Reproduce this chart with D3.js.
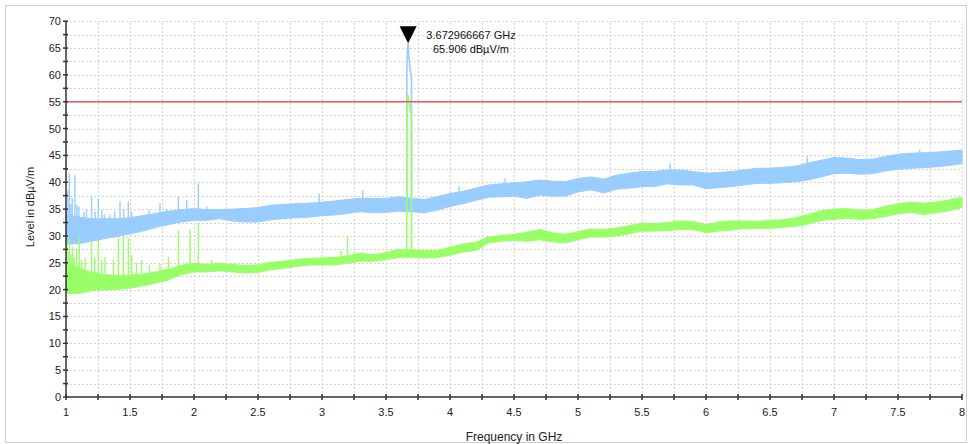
<!DOCTYPE html>
<html><head><meta charset="utf-8">
<script src="https://cdn.jsdelivr.net/npm/d3@7"></script>
<style>
html,body{margin:0;padding:0;background:#fff;}
svg{display:block;font-family:"Liberation Sans",Arial,sans-serif;}
</style></head>
<body><svg id="c" width="968" height="444"></svg>
<script>
// ---- data ----
const freqs = [1.0,1.1,1.2,1.3,1.4,1.5,1.6,1.7,1.8,1.9,2.0,2.1,2.2,2.3,2.4,2.5,2.6,2.7,2.8,2.9,3.0,3.1,3.2,3.3,3.4,3.5,3.6,3.7,3.8,3.9,4.0,4.1,4.2,4.3,4.4,4.5,4.6,4.7,4.8,4.9,5.0,5.1,5.2,5.3,5.4,5.5,5.6,5.7,5.8,5.9,6.0,6.1,6.2,6.3,6.4,6.5,6.6,6.7,6.8,6.9,7.0,7.1,7.2,7.3,7.4,7.5,7.6,7.7,7.8,7.9,8.0];
const blueLow = [28.4,28.6,29.0,29.5,29.9,30.4,30.9,31.6,32.1,32.6,32.9,32.9,33.2,32.8,32.6,32.6,33.0,33.2,33.4,33.5,33.8,33.9,34.2,34.5,34.3,34.4,34.6,34.5,34.3,34.8,35.5,36.0,36.6,37.2,37.3,37.4,37.0,37.6,37.4,37.4,38.2,38.6,38.0,38.7,38.9,39.2,39.2,39.7,39.5,39.5,38.8,39.0,39.2,39.5,39.8,39.8,39.9,40.1,40.4,41.0,41.6,41.7,41.5,41.6,42.1,42.4,42.6,42.7,42.9,43.1,43.5];
const blueHigh = [34.0,33.5,33.2,33.2,33.2,33.4,33.8,34.2,34.6,34.9,35.1,34.9,34.9,35.0,35.1,35.3,35.7,35.9,36.0,36.1,36.3,36.5,36.8,37.0,37.0,37.0,37.3,37.0,36.8,37.3,37.9,38.3,38.9,39.5,39.7,39.9,40.1,40.4,40.2,40.1,40.7,41.0,40.6,41.3,41.7,42.0,42.0,42.3,42.3,42.0,41.7,41.8,42.0,42.3,42.6,42.6,42.8,43.0,43.6,44.1,44.6,44.5,44.2,44.3,44.8,45.2,45.4,45.5,45.6,45.8,46.0];
const greenLow = [19.3,19.3,19.8,20.0,20.0,20.3,20.7,21.2,21.8,22.8,23.3,23.3,23.5,23.3,23.1,23.2,23.7,24.0,24.3,24.6,24.6,24.6,24.9,25.3,25.3,25.6,26.0,26.0,25.9,26.0,26.4,27.0,27.3,28.7,29.0,29.2,29.0,29.3,28.9,28.7,29.3,29.8,29.8,30.0,30.4,30.9,30.9,31.0,31.2,31.2,30.6,30.9,31.1,31.4,31.4,31.4,31.6,31.8,32.2,32.9,33.1,33.3,33.1,33.2,33.6,34.1,34.4,34.0,34.3,34.7,35.3];
const greenHigh = [25.0,24.0,23.2,22.8,22.6,22.7,22.9,23.3,23.8,24.5,24.9,24.7,24.9,24.7,24.5,24.6,25.1,25.3,25.6,25.8,25.9,26.0,26.3,26.8,26.5,26.9,27.5,27.4,27.3,27.3,27.9,28.5,28.8,29.8,30.1,30.3,30.7,31.2,30.6,30.3,30.8,31.3,31.2,31.5,31.9,32.4,32.3,32.5,32.8,32.7,32.1,32.6,32.8,32.8,32.7,32.9,33.0,33.4,34.0,34.7,35.0,35.1,34.8,34.9,35.5,36.0,36.3,36.1,36.3,36.7,37.2];

const blueSpikeF = [1.005,1.015,1.026,1.037,1.049,1.07,1.085,1.10,1.141,1.16,1.2,1.227,1.252,1.28,1.30,1.343,1.38,1.422,1.45,1.487,1.513,1.59,1.65,1.734,1.786,1.878,1.943,2.034,2.10,2.977,3.318,4.07,4.43,5.72,6.79,7.67];
const blueSpikeV = [35.0,38.5,41.7,36.0,37.0,41.3,35.8,35.5,34.5,35.0,37.3,34.5,37.0,34.8,34.0,34.0,34.6,36.4,35.0,36.4,34.5,33.5,34.8,36.1,35.0,37.3,36.7,39.8,35.5,37.9,38.4,39.2,40.7,43.5,44.8,46.0];
const greenSpikeF = [1.005,1.015,1.026,1.04,1.052,1.065,1.083,1.104,1.122,1.15,1.2,1.225,1.252,1.28,1.305,1.37,1.409,1.448,1.487,1.513,1.55,1.591,1.65,1.734,1.8,1.878,1.969,2.034,2.138,3.15,3.2];
const greenSpikeV = [28.6,27.0,29.5,26.5,27.9,26.0,27.6,29.9,25.5,25.8,29.2,26.0,29.2,25.5,26.1,25.5,29.6,29.9,29.6,26.4,25.0,25.5,24.6,24.8,26.1,31.1,31.1,32.6,25.5,27.2,29.9];

const bluePeakF = [3.662,3.663,3.667,3.672966667,3.678,3.686,3.699,3.700];
const bluePeakV = [36.5,61.0,64.5,65.906,63.5,61.5,59.5,36.5];
const greenPeakF = [3.662,3.663,3.668,3.678,3.690,3.699,3.700];
const greenPeakV = [27.0,55.0,56.3,55.5,53.5,52.5,27.0];

const limitValue = 55;
const markerF = 3.672966667, markerV = 65.906;
const xTicks = [1,1.5,2,2.5,3,3.5,4,4.5,5,5.5,6,6.5,7,7.5,8];
const yTicks = [0,5,10,15,20,25,30,35,40,45,50,55,60,65,70];

// ---- chart ----
const svg = d3.select("#c");
const x = d3.scaleLinear().domain([1,8]).range([66,962]);
const y = d3.scaleLinear().domain([0,70]).range([397,21.2]);

svg.append("rect").attr("x",5.5).attr("y",5.5).attr("width",961).attr("height",437)
  .attr("fill","none").attr("stroke","#d0d0d0").attr("stroke-width",1);

const minorX = d3.range(1,8.001,0.25), minorY = d3.range(0,70.001,2.5);
const grid = svg.append("g").attr("stroke","#d4d4d4").attr("stroke-dasharray","2,2").attr("stroke-width",1);
minorX.filter(v=>v>1).forEach(v=>grid.append("line").attr("x1",Math.round(x(v))+0.5).attr("x2",Math.round(x(v))+0.5).attr("y1",y(0)).attr("y2",y(70)));
minorY.filter(v=>v>0).forEach(v=>grid.append("line").attr("y1",Math.round(y(v))+0.5).attr("y2",Math.round(y(v))+0.5).attr("x1",x(1)).attr("x2",x(8)));

const band = (lo,hi)=>d3.area().x((d,i)=>x(freqs[i])).y0((d,i)=>y(lo[i])).y1((d,i)=>y(hi[i]));

function drawTrace(color, lo, hi, sf, sv, pf, pv){
  const g = svg.append("g");
  g.append("path").datum(freqs).attr("d",band(lo,hi)).attr("fill",color).attr("stroke",color).attr("stroke-width",1);
  sf.forEach((f,i)=>{
    const j = d3.bisectLeft(freqs,f);
    const k = Math.min(j,freqs.length-1);
    g.append("line").attr("x1",x(f)).attr("x2",x(f)).attr("y1",y(lo[k]+0.5)).attr("y2",y(sv[i]))
      .attr("stroke",color).attr("stroke-width",1.4);
  });
  g.append("path").datum(pf.map((f,i)=>[f,pv[i]]))
    .attr("d",d3.line().x(d=>x(d[0])).y(d=>y(d[1])))
    .attr("fill","none").attr("stroke",color).attr("stroke-width",1.6);
}
drawTrace("#99ccff", blueLow, blueHigh, blueSpikeF, blueSpikeV, bluePeakF, bluePeakV);
drawTrace("#99ff66", greenLow, greenHigh, greenSpikeF, greenSpikeV, greenPeakF, greenPeakV);

svg.append("line").attr("x1",x(1)).attr("x2",x(8)).attr("y1",y(limitValue)).attr("y2",y(limitValue))
  .attr("stroke","#f05a5a").attr("stroke-width",1.6);

// axes
const ax = svg.append("g").attr("stroke","#333").attr("stroke-width",1.5);
ax.append("line").attr("x1",x(1)).attr("x2",x(8)).attr("y1",y(0)).attr("y2",y(0));
ax.append("line").attr("x1",x(1)).attr("x2",x(1)).attr("y1",y(0)).attr("y2",y(70));
minorX.forEach(v=>ax.append("line").attr("x1",x(v)).attr("x2",x(v)).attr("y1",y(0)-3).attr("y2",y(0)+3));
minorY.forEach(v=>ax.append("line").attr("y1",y(v)).attr("y2",y(v)).attr("x1",x(1)-3).attr("x2",x(1)+2));

svg.append("g").selectAll("text").data(xTicks).join("text")
  .attr("x",d=>x(d)).attr("y",y(0)+19).attr("text-anchor","middle").attr("font-size",11).attr("fill","#222").text(d=>d);
svg.append("g").selectAll("text").data(yTicks).join("text")
  .attr("x",x(1)-5).attr("y",d=>y(d)+4).attr("text-anchor","end").attr("font-size",11).attr("fill","#222").text(d=>d);

svg.append("text").attr("transform","translate(34,207) rotate(-90)").attr("text-anchor","middle")
  .attr("font-size",11).attr("fill","#222").text("Level in dBµV/m");
svg.append("text").attr("x",(x(1)+x(8))/2).attr("y",441).attr("text-anchor","middle")
  .attr("font-size",12).attr("fill","#222").text("Frequency in GHz");

// marker
const mx = x(markerF), my = y(markerV);
svg.append("path").attr("d",`M${mx},${my} L${mx-8.5},${my-17} L${mx+8.5},${my-17} Z`).attr("fill","#000");
svg.append("text").attr("x",471).attr("y",39).attr("text-anchor","middle").attr("font-size",11).attr("fill","#111").text(markerF.toFixed(9)+" GHz");
svg.append("text").attr("x",471).attr("y",53).attr("text-anchor","middle").attr("font-size",11).attr("fill","#111").text(markerV.toFixed(3)+" dBµV/m");
</script></body></html>
